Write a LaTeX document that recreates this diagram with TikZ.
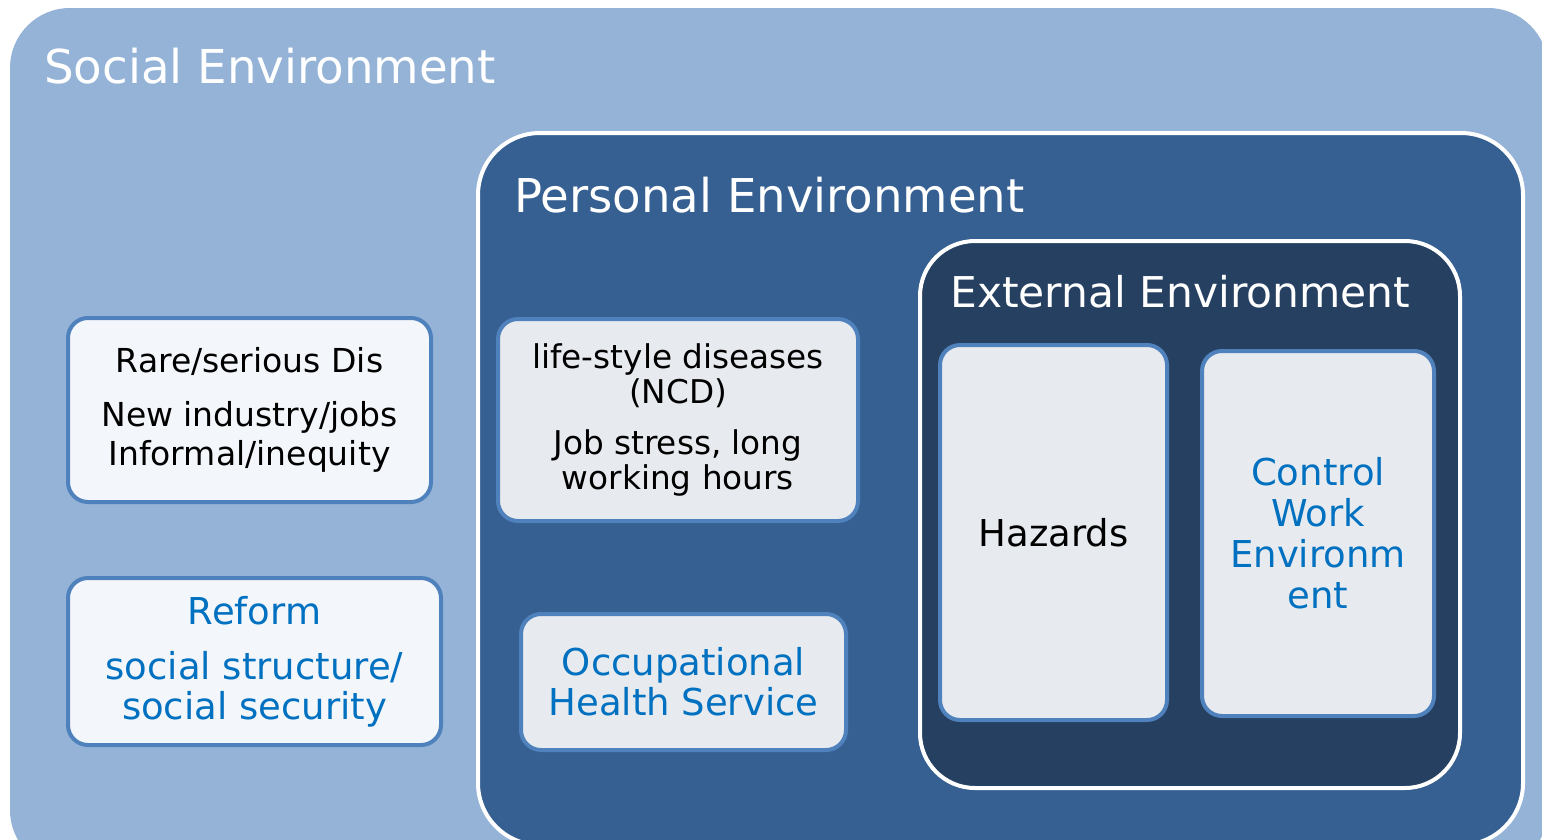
\documentclass[tikz,border=0pt]{standalone}
\usepackage{fontspec}
\setmainfont{DejaVu Sans}
\usepackage{tikz}
\usetikzlibrary{positioning,shapes}
\definecolor{socialblue}{HTML}{95B3D7}
\definecolor{personalblue}{HTML}{366092}
\definecolor{externalblue}{HTML}{254061}
\definecolor{itemborder}{HTML}{4F81BD}
\definecolor{itemlight}{HTML}{F3F6FA}
\definecolor{itemgrey}{HTML}{E7EAEE}
\definecolor{actionblue}{HTML}{0070C0}
\tikzset{
  env/.style     = {rectangle, inner sep=0pt, outer sep=0pt},
  social/.style  = {env, fill=socialblue, rounded corners=60pt},
  personal/.style= {env, fill=personalblue, draw=white, line width=4pt,
                    rounded corners=62pt},
  external/.style= {env, fill=externalblue, draw=white, line width=4pt,
                    rounded corners=55pt},
  title/.style   = {anchor=base west, inner sep=0pt, text=white},
  item/.style    = {rectangle, draw=itemborder, line width=4pt, align=center,
                    rounded corners=20pt, inner sep=0pt},
  light/.style   = {item, fill=itemlight},
  grey/.style    = {item, fill=itemgrey},
  action/.style  = {text=actionblue}
}
\begin{document}
\begin{tikzpicture}[x=1pt,y=-1pt]
  \clip (0,0) rectangle (1542,839);
  \fill[white] (0,0) rectangle (1542,839);

  % nested environments
  \node[social, minimum width=1538pt, minimum height=862pt] (social) at (779,439) {};
  \node[personal, minimum width=1045pt, minimum height=712pt] (personal) at (1000.5,489) {};
  \node[external, minimum width=540pt, minimum height=547pt] (external) at (1190,514.5) {};

  \node[title, font=\fontsize{46.7}{56}\selectfont] (socialtitle) at (44,83) {Social Environment};
  \node[title, font=\fontsize{46.6}{56}\selectfont] (personaltitle) at (514,212) {Personal Environment};
  \node[title, font=\fontsize{42.4}{50}\selectfont] (externaltitle) at (950,307) {External Environment};

  % social level
  \node[light, minimum width=363pt, minimum height=184pt, font=\fontsize{33}{39}\selectfont]
    (rare) at (249.5,410) {Rare/serious Dis\\[15pt] New industry/jobs\\ Informal/inequity};
  \node[light, action, minimum width=373pt, minimum height=167pt, font=\fontsize{37}{40}\selectfont]
    (reform) at (254.5,661.5) {Reform\\[15pt] social structure/\\ social security};

  % personal level
  \node[grey, minimum width=360pt, minimum height=202pt, font=\fontsize{32.7}{35}\selectfont]
    (lifestyle) at (678,420) {life-style diseases\\ (NCD)\\[16pt] Job stress, long\\ working hours};
  \node[grey, action, minimum width=325pt, minimum height=136pt, font=\fontsize{37}{40}\selectfont]
    (ohs) at (683.5,682) {Occupational\\ Health Service};

  % external level
  \node[grey, minimum width=227pt, minimum height=375pt, font=\fontsize{37}{41}\selectfont]
    (hazards) at (1053.5,532.5) {Hazards};
  \node[grey, action, minimum width=232pt, minimum height=365pt, font=\fontsize{37}{41}\selectfont]
    (control) at (1318,533.5) {Control\\ Work\\ Environm\\ ent};
\end{tikzpicture}
\end{document}
